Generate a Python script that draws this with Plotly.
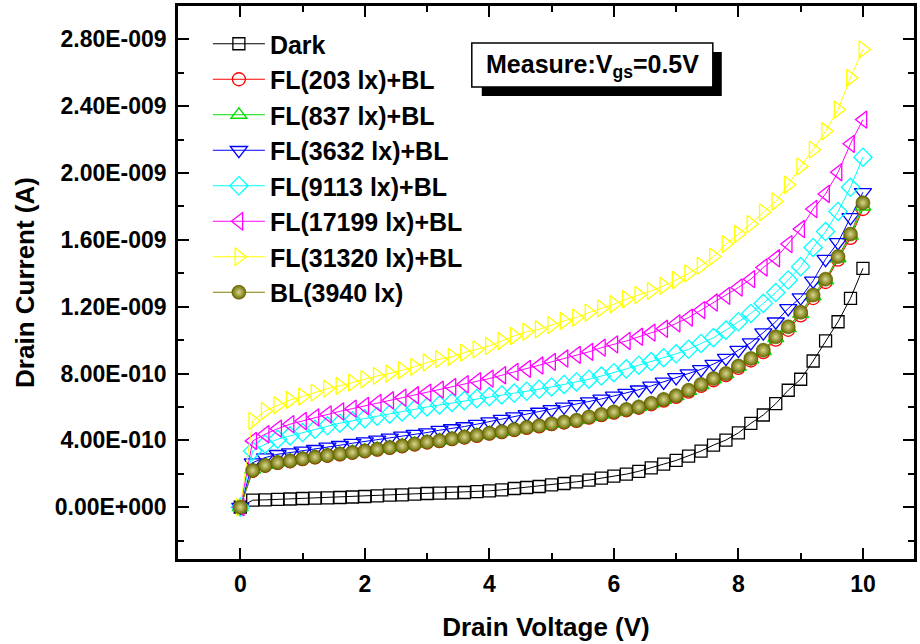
import plotly.graph_objects as go

# Drain voltage (V)
vd = [0.0, 0.2, 0.4, 0.6, 0.8, 1.0, 1.2, 1.4, 1.6, 1.8, 2.0, 2.2, 2.4, 2.6, 2.8, 3.0,
      3.2, 3.4, 3.6, 3.8, 4.0, 4.2, 4.4, 4.6, 4.8, 5.0, 5.2, 5.4, 5.6, 5.8, 6.0,
      6.2, 6.4, 6.6, 6.8, 7.0, 7.2, 7.4, 7.6, 7.8, 8.0, 8.2, 8.4, 8.6, 8.8, 9.0,
      9.2, 9.4, 9.6, 9.8, 10.0]

# Drain current in units of 1e-9 A
dark = [0, .042, .044, .047, .049, .052, .054, .056, .058, .061, .064, .068, .072, .074, .078, .082,
        .084, .086, .088, .093, .098, .104, .112, .118, .124, .134, .142, .152, .162, .174, .186,
        .198, .215, .235, .258, .28, .306, .336, .372, .402, .445, .502, .552, .62, .70, .766,
        .875, .995, 1.11, 1.25, 1.43]
fl203 = [0, .218, .248, .265, .275, .288, .298, .308, .316, .326, .335, .345, .355, .365, .375, .387,
         .395, .407, .417, .427, .44, .449, .462, .475, .484, .497, .507, .517, .536, .551, .566,
         .58, .595, .616, .638, .66, .692, .726, .76, .79, .834, .878, .928, 1.003, 1.062, 1.148,
         1.252, 1.348, 1.482, 1.612, 1.785]
fl837 = [0, .225, .254, .27, .28, .292, .302, .312, .32, .33, .339, .349, .359, .369, .38, .391,
         .4, .411, .421, .432, .444, .453, .466, .478, .488, .5, .511, .521, .54, .555, .57,
         .585, .6, .62, .643, .665, .697, .731, .766, .797, .84, .885, .934, 1.012, 1.072, 1.157,
         1.262, 1.358, 1.49, 1.625, 1.80]
fl3632 = [0, .267, .297, .317, .327, .337, .347, .361, .371, .383, .393, .403, .415, .427, .437, .447,
          .461, .471, .483, .497, .512, .527, .542, .556, .57, .586, .601, .616, .632, .648, .666,
          .683, .703, .726, .75, .777, .80, .825, .857, .892, .94, .985, 1.045, 1.11, 1.19, 1.255,
          1.355, 1.485, 1.585, 1.735, 1.885]
fl9113 = [0, .337, .377, .407, .427, .447, .467, .487, .503, .517, .53, .545, .557, .57, .586, .6,
          .612, .627, .638, .65, .662, .672, .683, .694, .706, .72, .735, .75, .766, .785, .805,
          .828, .85, .872, .895, .918, .945, .98, 1.015, 1.06, 1.11, 1.16, 1.22, 1.285, 1.36, 1.44,
          1.555, 1.65, 1.77, 1.915, 2.095]
fl17199 = [0, .397, .437, .47, .497, .516, .538, .556, .574, .59, .606, .624, .64, .656, .67, .686,
           .704, .72, .736, .754, .77, .79, .81, .828, .848, .87, .89, .912, .93, .955, .975,
           .995, 1.02, 1.045, 1.068, 1.10, 1.135, 1.18, 1.225, 1.265, 1.315, 1.365, 1.435, 1.49, 1.575, 1.665,
           1.785, 1.875, 2.005, 2.175, 2.32]
fl31320 = [0, .517, .576, .61, .642, .662, .686, .71, .726, .746, .766, .786, .80, .82, .84, .866,
           .886, .90, .925, .945, .965, .995, 1.025, 1.05, 1.065, 1.09, 1.115, 1.135, 1.165, 1.19, 1.215,
           1.245, 1.27, 1.295, 1.325, 1.36, 1.40, 1.445, 1.50, 1.575, 1.635, 1.695, 1.765, 1.83, 1.93, 2.04,
           2.14, 2.25, 2.38, 2.57, 2.74]
bl3940 = [0, .22, .25, .267, .277, .29, .30, .31, .318, .328, .337, .347, .357, .367, .378, .39,
          .398, .41, .42, .43, .443, .452, .465, .478, .487, .50, .51, .52, .54, .555, .57,
          .585, .60, .622, .645, .667, .70, .735, .77, .80, .845, .89, .94, 1.02, 1.08, 1.167,
          1.27, 1.365, 1.50, 1.635, 1.822]

y_tickvals = [0.0, 0.4, 0.8, 1.2, 1.6, 2.0, 2.4, 2.8]
y_ticktext = ["0.00E+000", "4.00E-010", "8.00E-010", "1.20E-009",
              "1.60E-009", "2.00E-009", "2.40E-009", "2.80E-009"]
x_tickvals = [0, 2, 4, 6, 8, 10]

SCALE = 1e-9
FONT = "Liberation Sans, Arial, sans-serif"

series = [
    ("Dark", dark, "#000000", "square-open", 12),
    ("FL(203 lx)+BL", fl203, "#ff0000", "circle-open", 13),
    ("FL(837 lx)+BL", fl837, "#00dd00", "triangle-up-open", 14),
    ("FL(3632 lx)+BL", fl3632, "#0000ff", "triangle-down-open", 15),
    ("FL(9113 lx)+BL", fl9113, "#00ffff", "diamond-open", 14),
    ("FL(17199 lx)+BL", fl17199, "#ff00ff", "triangle-left-open", 15),
    ("FL(31320 lx)+BL", fl31320, "#ffff00", "triangle-right-open", 15),
]

fig = go.Figure()
for name, vals, col, sym, sz in series:
    fig.add_trace(go.Scatter(
        x=vd, y=[v * SCALE for v in vals], name=name, mode="lines+markers",
        line=dict(color=col, width=1),
        marker=dict(symbol=sym, size=sz, color=col, line=dict(color=col, width=1.3)),
    ))

fig.add_trace(go.Scatter(
    x=vd, y=[v * SCALE for v in bl3940], name="BL(3940 lx)", mode="lines+markers",
    line=dict(color="#808000", width=1),
    marker=dict(symbol="circle", size=14, color="#6b6b00",
                gradient=dict(type="radial", color="#d8d890"),
                line=dict(color="#5a5a00", width=0.6)),
))

L, R, T, B = 178, 917, 6, 559
def px(x):
    return (x - L) / (R - L)
def py(y):
    return (B - y) / (B - T)

axis_common = dict(
    showline=True, linecolor="black", linewidth=2.5, mirror="ticks",
    ticks="inside", ticklen=11, tickwidth=2, tickcolor="black",
    showgrid=False, zeroline=False,
    tickfont=dict(family=FONT, size=23, color="black", weight="bold"),
)

fig.update_xaxes(
    range=[-1, 10.82], tickvals=x_tickvals,
    minor=dict(dtick=1, tick0=0, ticks="inside", ticklen=6, tickwidth=2, tickcolor="black"),
    title=dict(text="Drain Voltage (V)", font=dict(family=FONT, size=26, color="black", weight="bold"), standoff=22),
    ticklabelstandoff=3,
    **axis_common,
)
fig.update_yaxes(
    range=[-0.31e-9, 3.0e-9], tickvals=[v * SCALE for v in y_tickvals], ticktext=y_ticktext,
    minor=dict(dtick=0.2e-9, tick0=0, ticks="inside", ticklen=6, tickwidth=2, tickcolor="black"),
    title=dict(text="Drain Current (A)", font=dict(family=FONT, size=26, color="black", weight="bold"), standoff=13),
    ticklabelstandoff=4,
    **axis_common,
)

fig.add_shape(type="rect", xref="paper", yref="paper",
              x0=px(483), x1=px(724), y0=py(96), y1=py(52),
              fillcolor="black", line=dict(color="black", width=0), layer="above")
fig.add_shape(type="rect", xref="paper", yref="paper",
              x0=px(473), x1=px(715), y0=py(87), y1=py(43),
              fillcolor="white", line=dict(color="black", width=1.5), layer="above")
fig.add_annotation(xref="paper", yref="paper", x=px(594), y=py(66),
                   text="Measure:V<sub>gs</sub>=0.5V", showarrow=False,
                   xanchor="center", yanchor="middle",
                   font=dict(family=FONT, size=25, color="black", weight="bold"))

fig.update_layout(
    width=920, height=644,
    margin=dict(l=L, r=920 - R, t=T, b=644 - B),
    paper_bgcolor="white", plot_bgcolor="white",
    showlegend=True,
    legend=dict(x=px(208), y=py(21), xanchor="left", yanchor="top",
                bgcolor="rgba(0,0,0,0)", borderwidth=0,
                font=dict(family=FONT, size=25, color="black", weight="bold"),
                itemwidth=52, tracegroupgap=0),
)

fig.write_html("out.html")
